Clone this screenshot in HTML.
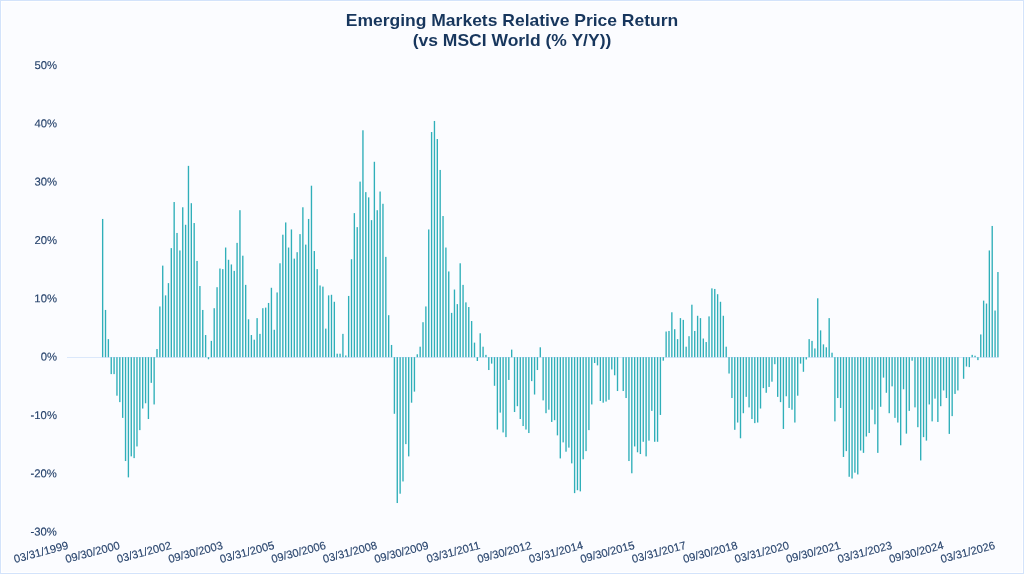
<!DOCTYPE html>
<html lang="en"><head><meta charset="utf-8"><title>Emerging Markets Relative Price Return</title>
<style>html,body{margin:0;padding:0;background:#fbfcff;}body{width:1024px;height:574px;overflow:hidden;position:relative;font-family:"Liberation Sans",Arial,sans-serif;}svg{position:absolute;left:0;top:0;display:block;will-change:transform;}text{font-family:"Liberation Sans",Arial,sans-serif;}</style></head><body>
<svg width="1024" height="574" viewBox="0 0 1024 574">
<rect x="1.5" y="1.5" width="1021" height="571" fill="none" stroke="#ffffff" stroke-width="1"/>
<rect x="0.5" y="0.5" width="1023" height="573" fill="none" stroke="#d3e3fb" stroke-width="1"/>
<g font-weight="700" font-size="16.5px" fill="#17365d" text-anchor="middle" transform="translate(512,0) scale(1.0606,1)"><text x="0" y="26.1">Emerging Markets Relative Price Return</text><text x="0" y="46.5">(vs MSCI World (% Y/Y))</text></g>
<g font-size="11.3px" fill="#27436c" stroke="#27436c" stroke-width="0.14" text-anchor="end" transform="rotate(0.03 57 300)">
<text x="57" y="68.9">50%</text>
<text x="57" y="127.2">40%</text>
<text x="57" y="185.6">30%</text>
<text x="57" y="243.9">20%</text>
<text x="57" y="302.2">10%</text>
<text x="57" y="360.6">0%</text>
<text x="57" y="418.9">-10%</text>
<text x="57" y="477.2">-20%</text>
<text x="57" y="535.5">-30%</text>
</g>
<line x1="67" y1="357.5" x2="998.6" y2="357.5" stroke="#dbe8fb" stroke-width="1"/>
<g fill="#2fafb9">
<rect x="101.97" y="218.95" width="1.36" height="138.25"/>
<rect x="104.83" y="309.95" width="1.36" height="47.25"/>
<rect x="107.69" y="339.12" width="1.36" height="18.08"/>
<rect x="110.55" y="357.20" width="1.36" height="16.92"/>
<rect x="113.41" y="357.20" width="1.36" height="16.92"/>
<rect x="116.28" y="357.20" width="1.36" height="38.50"/>
<rect x="119.14" y="357.20" width="1.36" height="44.92"/>
<rect x="122.00" y="357.20" width="1.36" height="60.67"/>
<rect x="124.86" y="357.20" width="1.36" height="103.83"/>
<rect x="127.72" y="357.20" width="1.36" height="120.17"/>
<rect x="130.58" y="357.20" width="1.36" height="99.17"/>
<rect x="133.44" y="357.20" width="1.36" height="100.92"/>
<rect x="136.30" y="357.20" width="1.36" height="89.25"/>
<rect x="139.16" y="357.20" width="1.36" height="72.92"/>
<rect x="142.02" y="357.20" width="1.36" height="51.33"/>
<rect x="144.88" y="357.20" width="1.36" height="46.08"/>
<rect x="147.74" y="357.20" width="1.36" height="61.83"/>
<rect x="150.60" y="357.20" width="1.36" height="25.67"/>
<rect x="153.46" y="357.20" width="1.36" height="47.25"/>
<rect x="156.32" y="349.03" width="1.36" height="8.17"/>
<rect x="159.18" y="306.45" width="1.36" height="50.75"/>
<rect x="162.04" y="265.62" width="1.36" height="91.58"/>
<rect x="164.90" y="295.37" width="1.36" height="61.83"/>
<rect x="167.76" y="283.12" width="1.36" height="74.08"/>
<rect x="170.62" y="248.12" width="1.36" height="109.08"/>
<rect x="173.48" y="202.03" width="1.36" height="155.17"/>
<rect x="176.34" y="232.95" width="1.36" height="124.25"/>
<rect x="179.20" y="250.45" width="1.36" height="106.75"/>
<rect x="182.06" y="207.28" width="1.36" height="149.92"/>
<rect x="184.92" y="224.78" width="1.36" height="132.42"/>
<rect x="187.78" y="165.87" width="1.36" height="191.33"/>
<rect x="190.64" y="203.20" width="1.36" height="154.00"/>
<rect x="193.50" y="223.03" width="1.36" height="134.17"/>
<rect x="196.36" y="260.95" width="1.36" height="96.25"/>
<rect x="199.22" y="286.03" width="1.36" height="71.17"/>
<rect x="202.08" y="309.95" width="1.36" height="47.25"/>
<rect x="204.94" y="335.03" width="1.36" height="22.17"/>
<rect x="207.80" y="357.20" width="1.36" height="2.04"/>
<rect x="210.67" y="340.87" width="1.36" height="16.33"/>
<rect x="213.53" y="308.20" width="1.36" height="49.00"/>
<rect x="216.39" y="287.20" width="1.36" height="70.00"/>
<rect x="219.25" y="268.53" width="1.36" height="88.67"/>
<rect x="222.11" y="269.12" width="1.36" height="88.08"/>
<rect x="224.97" y="247.53" width="1.36" height="109.67"/>
<rect x="227.83" y="259.78" width="1.36" height="97.42"/>
<rect x="230.69" y="264.45" width="1.36" height="92.75"/>
<rect x="233.55" y="270.87" width="1.36" height="86.33"/>
<rect x="236.41" y="242.87" width="1.36" height="114.33"/>
<rect x="239.27" y="210.20" width="1.36" height="147.00"/>
<rect x="242.13" y="255.70" width="1.36" height="101.50"/>
<rect x="244.99" y="284.87" width="1.36" height="72.33"/>
<rect x="247.85" y="319.28" width="1.36" height="37.92"/>
<rect x="250.71" y="335.03" width="1.36" height="22.17"/>
<rect x="253.57" y="339.70" width="1.36" height="17.50"/>
<rect x="256.43" y="318.12" width="1.36" height="39.08"/>
<rect x="259.29" y="333.87" width="1.36" height="23.33"/>
<rect x="262.15" y="308.20" width="1.36" height="49.00"/>
<rect x="265.01" y="307.62" width="1.36" height="49.58"/>
<rect x="267.87" y="302.95" width="1.36" height="54.25"/>
<rect x="270.73" y="287.78" width="1.36" height="69.42"/>
<rect x="273.59" y="329.78" width="1.36" height="27.42"/>
<rect x="276.45" y="292.45" width="1.36" height="64.75"/>
<rect x="279.31" y="263.28" width="1.36" height="93.92"/>
<rect x="282.17" y="234.70" width="1.36" height="122.50"/>
<rect x="285.03" y="222.45" width="1.36" height="134.75"/>
<rect x="287.89" y="247.53" width="1.36" height="109.67"/>
<rect x="290.75" y="229.45" width="1.36" height="127.75"/>
<rect x="293.61" y="258.62" width="1.36" height="98.58"/>
<rect x="296.47" y="252.20" width="1.36" height="105.00"/>
<rect x="299.33" y="234.12" width="1.36" height="123.08"/>
<rect x="302.19" y="207.28" width="1.36" height="149.92"/>
<rect x="305.06" y="244.62" width="1.36" height="112.58"/>
<rect x="307.92" y="218.95" width="1.36" height="138.25"/>
<rect x="310.78" y="185.70" width="1.36" height="171.50"/>
<rect x="313.64" y="251.03" width="1.36" height="106.17"/>
<rect x="316.50" y="269.12" width="1.36" height="88.08"/>
<rect x="319.36" y="285.45" width="1.36" height="71.75"/>
<rect x="322.22" y="286.62" width="1.36" height="70.58"/>
<rect x="325.08" y="328.62" width="1.36" height="28.58"/>
<rect x="327.94" y="295.37" width="1.36" height="61.83"/>
<rect x="330.80" y="294.78" width="1.36" height="62.42"/>
<rect x="333.66" y="301.78" width="1.36" height="55.42"/>
<rect x="336.52" y="353.70" width="1.36" height="3.50"/>
<rect x="339.38" y="353.70" width="1.36" height="3.50"/>
<rect x="342.24" y="333.87" width="1.36" height="23.33"/>
<rect x="345.10" y="355.45" width="1.36" height="1.75"/>
<rect x="347.96" y="295.95" width="1.36" height="61.25"/>
<rect x="350.82" y="259.20" width="1.36" height="98.00"/>
<rect x="353.68" y="213.12" width="1.36" height="144.08"/>
<rect x="356.54" y="227.12" width="1.36" height="130.08"/>
<rect x="359.40" y="181.62" width="1.36" height="175.58"/>
<rect x="362.26" y="130.28" width="1.36" height="226.92"/>
<rect x="365.12" y="192.12" width="1.36" height="165.08"/>
<rect x="367.98" y="197.37" width="1.36" height="159.83"/>
<rect x="370.84" y="220.12" width="1.36" height="137.08"/>
<rect x="373.70" y="161.78" width="1.36" height="195.42"/>
<rect x="376.56" y="210.20" width="1.36" height="147.00"/>
<rect x="379.42" y="191.53" width="1.36" height="165.67"/>
<rect x="382.28" y="203.78" width="1.36" height="153.42"/>
<rect x="385.14" y="256.87" width="1.36" height="100.33"/>
<rect x="388.00" y="315.20" width="1.36" height="42.00"/>
<rect x="390.86" y="344.95" width="1.36" height="12.25"/>
<rect x="393.72" y="357.20" width="1.36" height="56.58"/>
<rect x="396.58" y="357.20" width="1.36" height="145.83"/>
<rect x="399.44" y="357.20" width="1.36" height="136.50"/>
<rect x="402.31" y="357.20" width="1.36" height="124.25"/>
<rect x="405.17" y="357.20" width="1.36" height="86.92"/>
<rect x="408.03" y="357.20" width="1.36" height="99.17"/>
<rect x="410.89" y="357.20" width="1.36" height="45.50"/>
<rect x="413.75" y="357.20" width="1.36" height="34.42"/>
<rect x="416.61" y="354.28" width="1.36" height="2.92"/>
<rect x="419.47" y="346.70" width="1.36" height="10.50"/>
<rect x="422.33" y="322.20" width="1.36" height="35.00"/>
<rect x="425.19" y="306.45" width="1.36" height="50.75"/>
<rect x="428.05" y="229.45" width="1.36" height="127.75"/>
<rect x="430.91" y="132.03" width="1.36" height="225.17"/>
<rect x="433.77" y="120.95" width="1.36" height="236.25"/>
<rect x="436.63" y="139.03" width="1.36" height="218.17"/>
<rect x="439.49" y="169.95" width="1.36" height="187.25"/>
<rect x="442.35" y="216.03" width="1.36" height="141.17"/>
<rect x="445.21" y="247.53" width="1.36" height="109.67"/>
<rect x="448.07" y="271.45" width="1.36" height="85.75"/>
<rect x="450.93" y="312.87" width="1.36" height="44.33"/>
<rect x="453.79" y="289.53" width="1.36" height="67.67"/>
<rect x="456.65" y="304.12" width="1.36" height="53.08"/>
<rect x="459.51" y="263.28" width="1.36" height="93.92"/>
<rect x="462.37" y="284.87" width="1.36" height="72.33"/>
<rect x="465.23" y="302.37" width="1.36" height="54.83"/>
<rect x="468.09" y="307.03" width="1.36" height="50.17"/>
<rect x="470.95" y="321.03" width="1.36" height="36.17"/>
<rect x="473.81" y="342.62" width="1.36" height="14.58"/>
<rect x="476.67" y="357.20" width="1.36" height="3.79"/>
<rect x="479.53" y="333.28" width="1.36" height="23.92"/>
<rect x="482.39" y="346.70" width="1.36" height="10.50"/>
<rect x="485.25" y="354.87" width="1.36" height="2.33"/>
<rect x="488.11" y="357.20" width="1.36" height="12.83"/>
<rect x="490.97" y="357.20" width="1.36" height="6.42"/>
<rect x="493.83" y="357.20" width="1.36" height="28.58"/>
<rect x="496.70" y="357.20" width="1.36" height="72.33"/>
<rect x="499.56" y="357.20" width="1.36" height="55.42"/>
<rect x="502.42" y="357.20" width="1.36" height="75.25"/>
<rect x="505.28" y="357.20" width="1.36" height="79.92"/>
<rect x="508.14" y="357.20" width="1.36" height="22.75"/>
<rect x="511.00" y="349.62" width="1.36" height="7.58"/>
<rect x="513.86" y="357.20" width="1.36" height="54.83"/>
<rect x="516.72" y="357.20" width="1.36" height="49.00"/>
<rect x="519.58" y="357.20" width="1.36" height="61.83"/>
<rect x="522.44" y="357.20" width="1.36" height="68.83"/>
<rect x="525.30" y="357.20" width="1.36" height="72.33"/>
<rect x="528.16" y="357.20" width="1.36" height="75.83"/>
<rect x="531.02" y="357.20" width="1.36" height="23.92"/>
<rect x="533.88" y="357.20" width="1.36" height="37.33"/>
<rect x="536.74" y="357.20" width="1.36" height="12.83"/>
<rect x="539.60" y="347.28" width="1.36" height="9.92"/>
<rect x="542.46" y="357.20" width="1.36" height="43.17"/>
<rect x="545.32" y="357.20" width="1.36" height="56.00"/>
<rect x="548.18" y="357.20" width="1.36" height="52.50"/>
<rect x="551.04" y="357.20" width="1.36" height="64.75"/>
<rect x="553.90" y="357.20" width="1.36" height="63.00"/>
<rect x="556.76" y="357.20" width="1.36" height="78.17"/>
<rect x="559.62" y="357.20" width="1.36" height="101.21"/>
<rect x="562.48" y="357.20" width="1.36" height="85.17"/>
<rect x="565.34" y="357.20" width="1.36" height="94.50"/>
<rect x="568.20" y="357.20" width="1.36" height="90.42"/>
<rect x="571.06" y="357.20" width="1.36" height="106.17"/>
<rect x="573.92" y="357.20" width="1.36" height="135.92"/>
<rect x="576.78" y="357.20" width="1.36" height="133.00"/>
<rect x="579.64" y="357.20" width="1.36" height="134.17"/>
<rect x="582.50" y="357.20" width="1.36" height="102.08"/>
<rect x="585.36" y="357.20" width="1.36" height="93.92"/>
<rect x="588.22" y="357.20" width="1.36" height="72.92"/>
<rect x="591.09" y="357.20" width="1.36" height="47.25"/>
<rect x="593.95" y="357.20" width="1.36" height="5.83"/>
<rect x="596.81" y="357.20" width="1.36" height="8.17"/>
<rect x="599.67" y="357.20" width="1.36" height="43.75"/>
<rect x="602.53" y="357.20" width="1.36" height="45.50"/>
<rect x="605.39" y="357.20" width="1.36" height="44.33"/>
<rect x="608.25" y="357.20" width="1.36" height="42.58"/>
<rect x="611.11" y="357.20" width="1.36" height="12.25"/>
<rect x="613.97" y="357.20" width="1.36" height="18.08"/>
<rect x="616.83" y="357.20" width="1.36" height="33.83"/>
<rect x="622.55" y="357.20" width="1.36" height="33.83"/>
<rect x="625.41" y="357.20" width="1.36" height="40.83"/>
<rect x="628.27" y="357.20" width="1.36" height="103.83"/>
<rect x="631.13" y="357.20" width="1.36" height="116.08"/>
<rect x="633.99" y="357.20" width="1.36" height="89.25"/>
<rect x="636.85" y="357.20" width="1.36" height="95.08"/>
<rect x="639.71" y="357.20" width="1.36" height="96.83"/>
<rect x="642.57" y="357.20" width="1.36" height="84.58"/>
<rect x="645.43" y="357.20" width="1.36" height="99.17"/>
<rect x="648.29" y="357.20" width="1.36" height="83.42"/>
<rect x="651.15" y="357.20" width="1.36" height="53.67"/>
<rect x="654.01" y="357.20" width="1.36" height="84.58"/>
<rect x="656.87" y="357.20" width="1.36" height="84.58"/>
<rect x="659.73" y="357.20" width="1.36" height="57.75"/>
<rect x="662.59" y="357.20" width="1.36" height="3.50"/>
<rect x="665.45" y="331.53" width="1.36" height="25.67"/>
<rect x="668.31" y="330.95" width="1.36" height="26.25"/>
<rect x="671.17" y="312.28" width="1.36" height="44.92"/>
<rect x="674.03" y="329.20" width="1.36" height="28.00"/>
<rect x="676.89" y="339.12" width="1.36" height="18.08"/>
<rect x="679.75" y="318.12" width="1.36" height="39.08"/>
<rect x="682.61" y="319.87" width="1.36" height="37.33"/>
<rect x="685.47" y="346.70" width="1.36" height="10.50"/>
<rect x="688.34" y="336.20" width="1.36" height="21.00"/>
<rect x="691.20" y="304.70" width="1.36" height="52.50"/>
<rect x="694.06" y="330.95" width="1.36" height="26.25"/>
<rect x="696.92" y="315.78" width="1.36" height="41.42"/>
<rect x="699.78" y="318.12" width="1.36" height="39.08"/>
<rect x="702.64" y="338.53" width="1.36" height="18.67"/>
<rect x="705.50" y="342.03" width="1.36" height="15.17"/>
<rect x="708.36" y="316.37" width="1.36" height="40.83"/>
<rect x="711.22" y="288.37" width="1.36" height="68.83"/>
<rect x="714.08" y="288.95" width="1.36" height="68.25"/>
<rect x="716.94" y="294.20" width="1.36" height="63.00"/>
<rect x="719.80" y="301.78" width="1.36" height="55.42"/>
<rect x="722.66" y="315.78" width="1.36" height="41.42"/>
<rect x="725.52" y="346.70" width="1.36" height="10.50"/>
<rect x="728.38" y="357.20" width="1.36" height="16.33"/>
<rect x="731.24" y="357.20" width="1.36" height="40.83"/>
<rect x="734.10" y="357.20" width="1.36" height="72.62"/>
<rect x="736.96" y="357.20" width="1.36" height="65.33"/>
<rect x="739.82" y="357.20" width="1.36" height="81.08"/>
<rect x="742.68" y="357.20" width="1.36" height="56.00"/>
<rect x="745.54" y="357.20" width="1.36" height="39.67"/>
<rect x="748.40" y="357.20" width="1.36" height="50.17"/>
<rect x="751.26" y="357.20" width="1.36" height="61.83"/>
<rect x="754.12" y="357.20" width="1.36" height="65.92"/>
<rect x="756.98" y="357.20" width="1.36" height="65.33"/>
<rect x="759.84" y="357.20" width="1.36" height="51.33"/>
<rect x="762.70" y="357.20" width="1.36" height="30.92"/>
<rect x="765.56" y="357.20" width="1.36" height="35.58"/>
<rect x="768.42" y="357.20" width="1.36" height="29.75"/>
<rect x="771.28" y="357.20" width="1.36" height="24.50"/>
<rect x="774.14" y="357.20" width="1.36" height="7.00"/>
<rect x="777.00" y="357.20" width="1.36" height="39.67"/>
<rect x="779.86" y="357.20" width="1.36" height="44.92"/>
<rect x="782.73" y="357.20" width="1.36" height="71.75"/>
<rect x="785.59" y="357.20" width="1.36" height="39.08"/>
<rect x="788.45" y="357.20" width="1.36" height="50.75"/>
<rect x="791.31" y="357.20" width="1.36" height="52.50"/>
<rect x="794.17" y="357.20" width="1.36" height="65.33"/>
<rect x="797.03" y="357.20" width="1.36" height="38.50"/>
<rect x="799.89" y="357.20" width="1.36" height="6.42"/>
<rect x="802.75" y="357.20" width="1.36" height="14.58"/>
<rect x="805.61" y="357.20" width="1.36" height="2.33"/>
<rect x="808.47" y="339.12" width="1.36" height="18.08"/>
<rect x="811.33" y="340.87" width="1.36" height="16.33"/>
<rect x="814.19" y="348.45" width="1.36" height="8.75"/>
<rect x="817.05" y="298.28" width="1.36" height="58.92"/>
<rect x="819.91" y="330.37" width="1.36" height="26.83"/>
<rect x="822.77" y="344.37" width="1.36" height="12.83"/>
<rect x="825.63" y="347.28" width="1.36" height="9.92"/>
<rect x="828.49" y="318.12" width="1.36" height="39.08"/>
<rect x="831.35" y="352.71" width="1.36" height="4.49"/>
<rect x="834.21" y="357.20" width="1.36" height="64.17"/>
<rect x="837.07" y="357.20" width="1.36" height="40.83"/>
<rect x="839.93" y="357.20" width="1.36" height="50.75"/>
<rect x="842.79" y="357.20" width="1.36" height="99.75"/>
<rect x="845.65" y="357.20" width="1.36" height="93.92"/>
<rect x="848.51" y="357.20" width="1.36" height="119.58"/>
<rect x="851.37" y="357.20" width="1.36" height="121.33"/>
<rect x="854.23" y="357.20" width="1.36" height="115.50"/>
<rect x="857.09" y="357.20" width="1.36" height="117.25"/>
<rect x="859.95" y="357.20" width="1.36" height="93.33"/>
<rect x="862.81" y="357.20" width="1.36" height="95.67"/>
<rect x="865.67" y="357.20" width="1.36" height="79.33"/>
<rect x="868.53" y="357.20" width="1.36" height="75.83"/>
<rect x="871.39" y="357.20" width="1.36" height="52.50"/>
<rect x="874.25" y="357.20" width="1.36" height="67.08"/>
<rect x="877.12" y="357.20" width="1.36" height="95.67"/>
<rect x="879.98" y="357.20" width="1.36" height="49.58"/>
<rect x="882.84" y="357.20" width="1.36" height="20.42"/>
<rect x="885.70" y="357.20" width="1.36" height="35.58"/>
<rect x="888.56" y="357.20" width="1.36" height="56.00"/>
<rect x="891.42" y="357.20" width="1.36" height="29.17"/>
<rect x="894.28" y="357.20" width="1.36" height="60.67"/>
<rect x="897.14" y="357.20" width="1.36" height="65.33"/>
<rect x="900.00" y="357.20" width="1.36" height="88.08"/>
<rect x="902.86" y="357.20" width="1.36" height="32.08"/>
<rect x="905.72" y="357.20" width="1.36" height="76.42"/>
<rect x="908.58" y="357.20" width="1.36" height="53.67"/>
<rect x="911.44" y="357.20" width="1.36" height="3.50"/>
<rect x="914.30" y="357.20" width="1.36" height="50.17"/>
<rect x="917.16" y="357.20" width="1.36" height="70.00"/>
<rect x="920.02" y="357.20" width="1.36" height="103.25"/>
<rect x="922.88" y="357.20" width="1.36" height="79.92"/>
<rect x="925.74" y="357.20" width="1.36" height="83.42"/>
<rect x="928.60" y="357.20" width="1.36" height="47.25"/>
<rect x="931.46" y="357.20" width="1.36" height="64.17"/>
<rect x="934.32" y="357.20" width="1.36" height="41.42"/>
<rect x="937.18" y="357.20" width="1.36" height="64.75"/>
<rect x="940.04" y="357.20" width="1.36" height="49.00"/>
<rect x="942.90" y="357.20" width="1.36" height="33.25"/>
<rect x="945.76" y="357.20" width="1.36" height="40.83"/>
<rect x="948.62" y="357.20" width="1.36" height="76.71"/>
<rect x="951.48" y="357.20" width="1.36" height="58.92"/>
<rect x="954.34" y="357.20" width="1.36" height="36.75"/>
<rect x="957.20" y="357.20" width="1.36" height="33.25"/>
<rect x="962.92" y="357.20" width="1.36" height="21.58"/>
<rect x="965.78" y="357.20" width="1.36" height="9.33"/>
<rect x="968.64" y="357.20" width="1.36" height="9.92"/>
<rect x="971.50" y="354.87" width="1.36" height="2.33"/>
<rect x="974.37" y="355.74" width="1.36" height="1.46"/>
<rect x="977.23" y="357.20" width="1.36" height="2.92"/>
<rect x="980.09" y="334.45" width="1.36" height="22.75"/>
<rect x="982.95" y="300.62" width="1.36" height="56.58"/>
<rect x="985.81" y="303.53" width="1.36" height="53.67"/>
<rect x="988.67" y="250.45" width="1.36" height="106.75"/>
<rect x="991.53" y="225.95" width="1.36" height="131.25"/>
<rect x="994.39" y="310.53" width="1.36" height="46.67"/>
<rect x="997.25" y="272.03" width="1.36" height="85.17"/>
</g>
<g font-size="11.15px" fill="#27436c" stroke="#27436c" stroke-width="0.14" text-anchor="end">
<text transform="translate(68.9,548.6) rotate(-15)" x="0" y="0">03/31/1999</text>
<text transform="translate(120.4,548.6) rotate(-15)" x="0" y="0">09/30/2000</text>
<text transform="translate(171.9,548.6) rotate(-15)" x="0" y="0">03/31/2002</text>
<text transform="translate(223.4,548.6) rotate(-15)" x="0" y="0">09/30/2003</text>
<text transform="translate(274.9,548.6) rotate(-15)" x="0" y="0">03/31/2005</text>
<text transform="translate(326.4,548.6) rotate(-15)" x="0" y="0">09/30/2006</text>
<text transform="translate(377.8,548.6) rotate(-15)" x="0" y="0">03/31/2008</text>
<text transform="translate(429.3,548.6) rotate(-15)" x="0" y="0">09/30/2009</text>
<text transform="translate(480.8,548.6) rotate(-15)" x="0" y="0">03/31/2011</text>
<text transform="translate(532.3,548.6) rotate(-15)" x="0" y="0">09/30/2012</text>
<text transform="translate(583.8,548.6) rotate(-15)" x="0" y="0">03/31/2014</text>
<text transform="translate(635.3,548.6) rotate(-15)" x="0" y="0">09/30/2015</text>
<text transform="translate(686.8,548.6) rotate(-15)" x="0" y="0">03/31/2017</text>
<text transform="translate(738.2,548.6) rotate(-15)" x="0" y="0">09/30/2018</text>
<text transform="translate(789.7,548.6) rotate(-15)" x="0" y="0">03/31/2020</text>
<text transform="translate(841.2,548.6) rotate(-15)" x="0" y="0">09/30/2021</text>
<text transform="translate(892.7,548.6) rotate(-15)" x="0" y="0">03/31/2023</text>
<text transform="translate(944.2,548.6) rotate(-15)" x="0" y="0">09/30/2024</text>
<text transform="translate(995.7,548.6) rotate(-15)" x="0" y="0">03/31/2026</text>
</g>
</svg></body></html>
